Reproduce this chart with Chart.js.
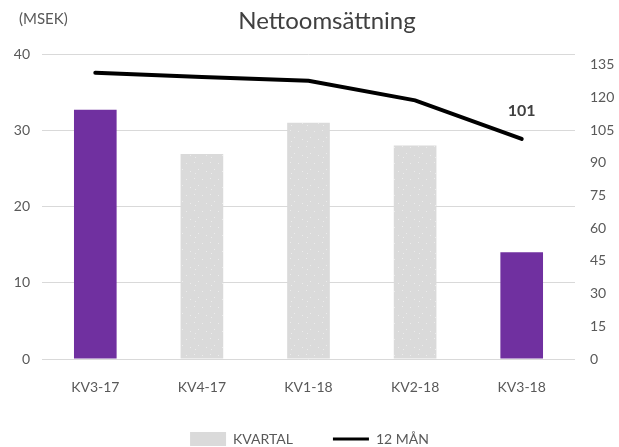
<!DOCTYPE html>
<html>
<head>
<meta charset="utf-8">
<script src="https://cdn.jsdelivr.net/npm/chart.js@4/dist/chart.umd.min.js"></script>
<style>
  html, body { margin: 0; padding: 0; background: #fff; }
  #wrap { width: 619px; height: 447px; }
</style>
</head>
<body>
<div id="wrap"><canvas id="chart" width="619" height="447"></canvas></div>
<script>
const categories = ["KV3-17", "KV4-17", "KV1-18", "KV2-18", "KV3-18"];
const kvartal = [32.7, 26.9, 31.0, 28.0, 14.0];
const tolvMan = [131.4, 129.4, 127.7, 118.7, 101];
const highlighted = [true, false, false, false, true];
const leftTicks = [0, 10, 20, 30, 40];
const rightTicks = [0, 15, 30, 45, 60, 75, 90, 105, 120, 135];

const purple = "#7030A0";
const textGray = "#595959";
const FONT = "Lato, 'Open Sans', sans-serif";

// grey bars have a faint dotted fill
function dottedPattern() {
  const c = document.createElement("canvas");
  c.width = 16; c.height = 16;
  const g = c.getContext("2d");
  g.fillStyle = "#DADADA";
  g.fillRect(0, 0, 16, 16);
  g.fillStyle = "#ECECEC";
  [[2, 2], [10, 3], [6, 9], [14, 11], [3, 13]].forEach(([x, y]) => g.fillRect(x, y, 1, 1));
  return g.createPattern(c, "repeat");
}
const grey = dottedPattern();

const textPlugin = {
  id: "texts",
  afterDraw(chart) {
    const ctx = chart.ctx;
    ctx.save();
    ctx.textBaseline = "middle";
    ctx.fillStyle = textGray;
    ctx.font = "15px " + FONT;
    ctx.textAlign = "left";
    ctx.fillText("(MSEK)", 19, 19);
    ctx.font = "24px " + FONT;
    ctx.fillStyle = "#404040";
    ctx.textAlign = "center";
    ctx.fillText("Nettoomsättning", 327, 21);
    // value label on last line point
    const meta = chart.getDatasetMeta(1);
    const p = meta.data[meta.data.length - 1];
    ctx.font = "bold 16px " + FONT;
    ctx.fillText(String(tolvMan[tolvMan.length - 1]), p.x, p.y - 28);
    ctx.restore();
  },
};

new Chart(document.getElementById("chart"), {
  data: {
    labels: categories,
    datasets: [
      {
        type: "bar",
        label: "KVARTAL",
        data: kvartal,
        backgroundColor: highlighted.map((h) => (h ? purple : grey)),
        yAxisID: "y",
        barPercentage: 0.4,
        categoryPercentage: 1,
        order: 2,
      },
      {
        type: "line",
        label: "12 MÅN",
        data: tolvMan,
        borderColor: "#000",
        backgroundColor: "#000",
        borderWidth: 4,
        pointRadius: 0,
        tension: 0,
        borderCapStyle: "round",
        yAxisID: "y2",
        order: 1,
      },
    ],
  },
  options: {
    responsive: false,
    animation: false,
    layout: { padding: { top: 54, left: 0, right: 0, bottom: -9 } },
    plugins: {
      title: { display: false },
      tooltip: { enabled: false },
      legend: {
        position: "bottom",
        labels: {
          usePointStyle: true,
          pointStyleWidth: 36,
          padding: 40,
          color: textGray,
          font: { family: FONT, size: 14 },
          generateLabels: () => [
            { text: "KVARTAL", fillStyle: "#DADADA", strokeStyle: "#DADADA", lineWidth: 0, pointStyle: "rect", fontColor: textGray, datasetIndex: 0 },
            { text: "12 MÅN", fillStyle: "#000", strokeStyle: "#000", lineWidth: 3, pointStyle: "line", fontColor: textGray, datasetIndex: 1 },
          ],
        },
      },
    },
    scales: {
      x: {
        grid: { display: false },
        border: { display: false },
        ticks: { color: textGray, font: { family: FONT, size: 14 }, padding: 12 },
        afterFit: (s) => { s.height = 33; },
      },
      y: {
        position: "left",
        min: 0,
        max: 40,
        ticks: { color: textGray, font: { family: FONT, size: 14 }, padding: 12 },
        afterBuildTicks: (s) => { s.ticks = leftTicks.map((v) => ({ value: v })); },
        grid: { color: "#D9D9D9", drawTicks: false },
        border: { display: false },
        afterFit: (s) => { s.width = 42; },
      },
      y2: {
        position: "right",
        min: 0,
        max: 140,
        ticks: { color: textGray, font: { family: FONT, size: 14 }, padding: 15 },
        afterBuildTicks: (s) => { s.ticks = rightTicks.map((v) => ({ value: v })); },
        grid: { display: false, drawTicks: false },
        border: { display: false },
        afterFit: (s) => { s.width = 44; },
      },
    },
  },
  plugins: [textPlugin],
});
</script>
</body>
</html>
